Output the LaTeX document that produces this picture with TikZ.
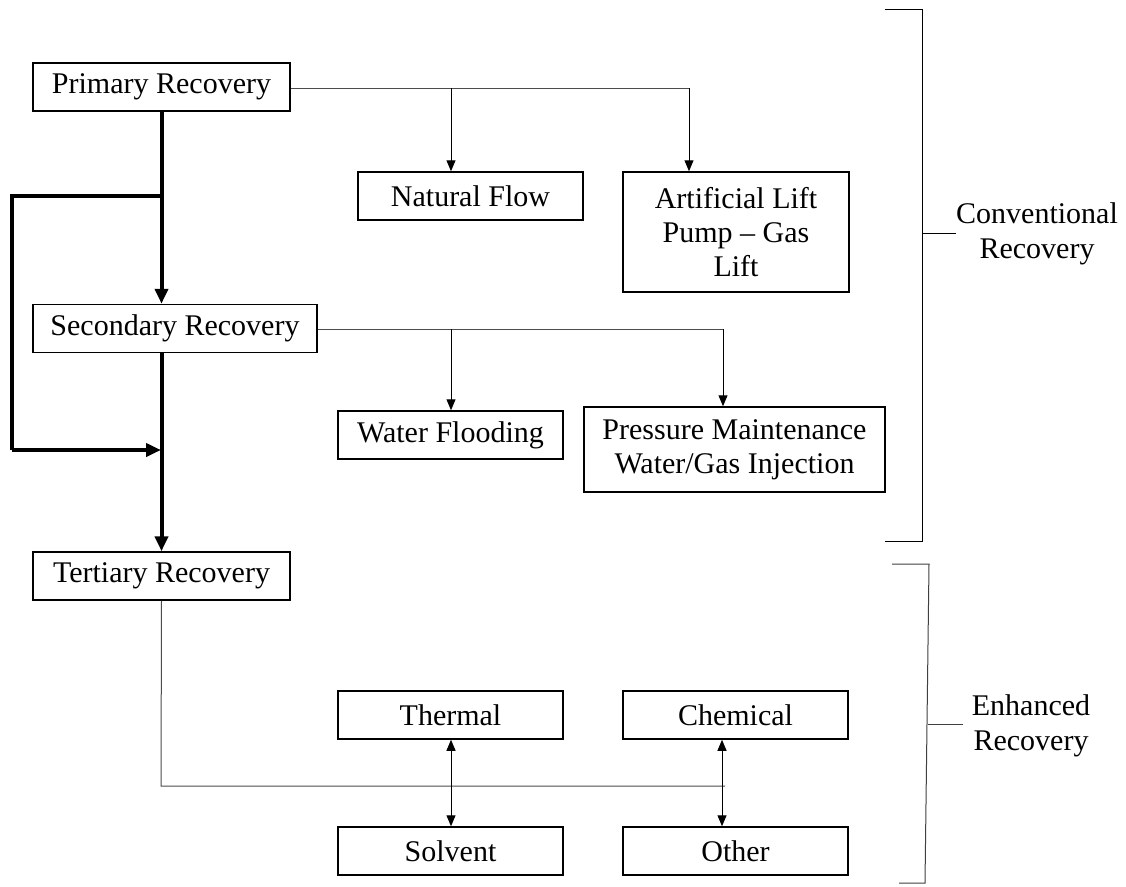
\documentclass[tikz,border=0pt]{standalone}
\usepackage{fontspec}
\setmainfont{Liberation Serif}
\usetikzlibrary{arrows.meta}

\tikzset{
  x=1pt, y=-1pt,
  box/.style={draw=black, line width=1.5pt, fill=white, inner sep=0pt, align=center,
    font=\fontsize{30}{34}\selectfont},
  thin/.style={line width=1pt, draw=black!70},
  thinarrow/.style={line width=1pt, draw=black, -{Triangle[width=9pt,length=11pt]}},
  twoway/.style={line width=1pt, draw=black, {Triangle[width=9pt,length=11pt]}-{Triangle[width=9pt,length=11pt]}},
  thick flow/.style={line width=4pt, draw=black},
  thick arrow/.style={thick flow, -{Triangle[width=13pt,length=15pt]}},
  bracket/.style={line width=1pt, draw=black},
  label text/.style={align=center, font=\fontsize{30}{35}\selectfont, inner sep=0pt}
}

\begin{document}
\begin{tikzpicture}
\useasboundingbox (0,0) rectangle (1126,886);
\fill[white] (0,0) rectangle (1126,886);

% recovery stages
\node[box, minimum width=257pt, minimum height=48pt] (prim) at (161.5,87) {Primary Recovery};
\node[box, minimum width=284pt, minimum height=48pt] (sec) at (175,328.5) {Secondary Recovery};
\node[box, minimum width=257pt, minimum height=48pt] (ter) at (161.5,576) {Tertiary Recovery};

% primary methods
\node[box, minimum width=225pt, minimum height=48pt] (nat) at (470.5,196) {Natural Flow};
\node[box, minimum width=226pt, minimum height=120pt] (art) at (736,232) {Artificial Lift\\Pump -- Gas\\Lift};

% secondary methods
\node[box, minimum width=225pt, minimum height=48pt] (wat) at (450.5,435) {Water Flooding};
\node[box, minimum width=301pt, minimum height=85pt] (prs) at (734.5,449.5) {Pressure Maintenance\\Water/Gas Injection};

% tertiary methods
\node[box, minimum width=225pt, minimum height=48pt] (thm) at (450.5,715) {Thermal};
\node[box, minimum width=225pt, minimum height=48pt] (chm) at (735.5,715) {Chemical};
\node[box, minimum width=225pt, minimum height=48pt] (sol) at (450.5,851) {Solvent};
\node[box, minimum width=225pt, minimum height=48pt] (oth) at (735.5,851) {Other};

% main flow between stages
\coordinate (b1) at (161,196);
\coordinate (b2) at (12,196);
\coordinate (b3) at (12,450);
\coordinate (b4) at (161,450);
\draw[thick arrow] (prim.south) -- (prim.south |- sec.north);
\draw[thick flow] (b1) -- (b2) -- (b3);
\draw[thick arrow] (b3) -- (b4);
\draw[thick arrow] (prim.south |- sec.south) -- (ter.north);

% primary branches
\coordinate (pN) at (451,88);
\coordinate (pA) at (689,88);
\draw[thin] (prim.east |- pA) -- (pA);
\draw[thinarrow] (pN) -- (pN |- nat.north);
\draw[thinarrow] (pA) -- (pA |- art.north);

% secondary branches
\coordinate (sW) at (451,329);
\coordinate (sA) at (723,329);
\draw[thin] (sec.east |- sA) -- (sA);
\draw[thinarrow] (sW) -- (sW |- wat.north);
\draw[thinarrow] (sA) -- (sA |- prs.north);

% tertiary branches
\coordinate (tC) at (161,786);
\coordinate (tE) at (725,786);
\draw[thin] (ter.south) -- (tC) -- (tE);
\coordinate (tT) at (451,0);
\coordinate (tO) at (722,0);
\draw[twoway] (tT |- thm.south) -- (tT |- sol.north);
\draw[twoway] (tO |- chm.south) -- (tO |- oth.north);

% grouping brackets
\draw[bracket] (885,9) -- (922,9) -- (922,541) -- (885,541);
\draw[bracket] (922,233) -- (956,233);
\node[label text] (conv) at (1037,234) {Conventional\\Recovery};

\draw[bracket, draw=black!75] (892,564) -- (929,564) -- (925,883) -- (899,883);
\draw[bracket, draw=black!75] (928,724) -- (963,724);
\node[label text] (enh) at (1031,726) {Enhanced\\Recovery};
\end{tikzpicture}
\end{document}
